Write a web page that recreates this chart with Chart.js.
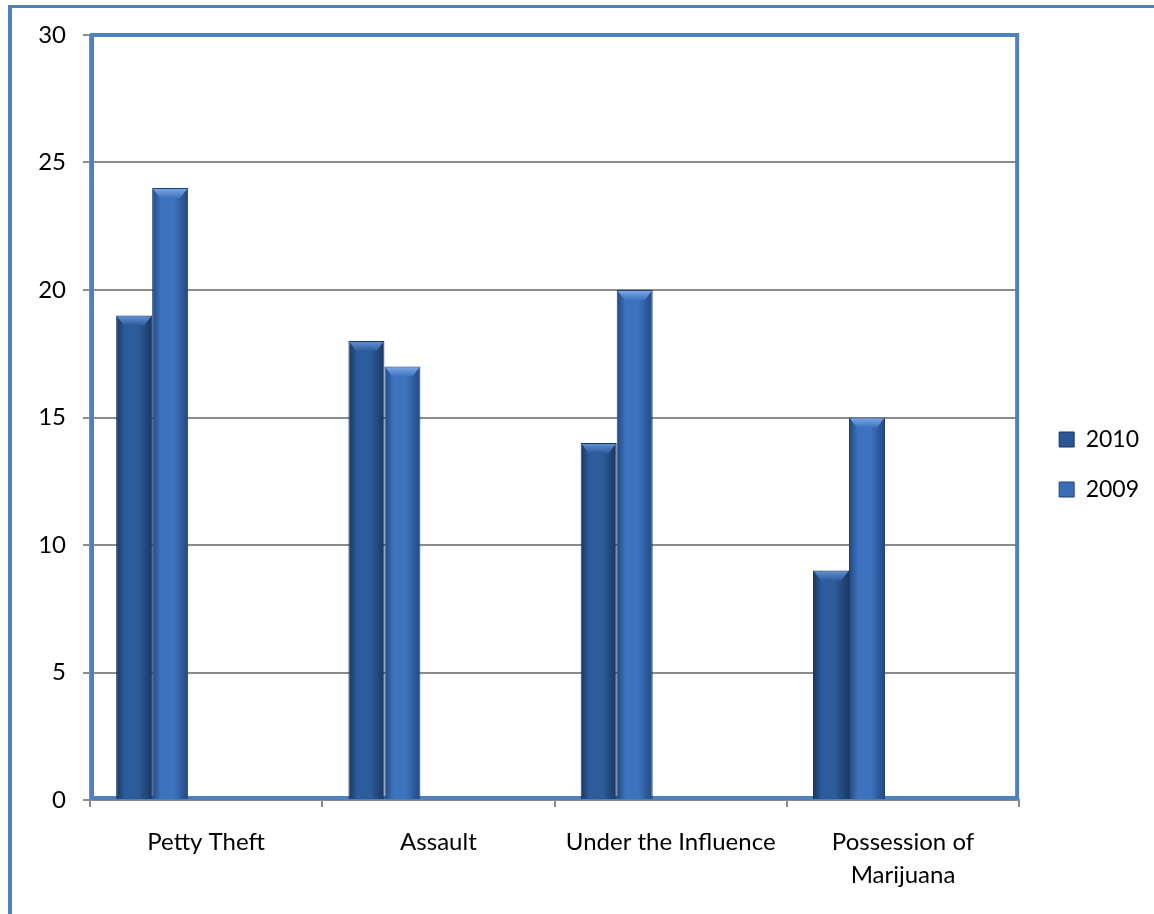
<!DOCTYPE html>
<html>
<head>
<meta charset="utf-8">
<script src="https://cdn.jsdelivr.net/npm/chart.js@4.4.1/dist/chart.umd.min.js"></script>
<style>
  html, body { margin: 0; padding: 0; background: #ffffff; }
  #frame {
    position: absolute; left: 8px; top: 5px; width: 1160px; height: 920px;
    border-left: 4px solid #4f81bd; border-top: 3px solid #4f81bd;
  }
  #wrap { position: absolute; left: 0; top: 0; width: 1154px; height: 914px; }
</style>
</head>
<body>
<div id="frame"></div>
<div id="wrap"><canvas id="chart" width="1154" height="914"></canvas></div>
<script>
// Offences by year
const categories = ['Petty Theft', 'Assault', 'Under the Influence', ['Possession of', 'Marijuana']];
const values2010 = [19, 18, 14, 9];
const values2009 = [24, 17, 20, 15];
const seriesNames = ['2010', '2009'];
const yMin = 0, yMax = 30, yStep = 5;

const FONT = 'Lato, "Open Sans", "DejaVu Sans", sans-serif';
const GRID = '#8c8c8c';
const FRAME = '#4f81bd';

// shading per series: edge, middle, top bevel light
const shades = [
  { edge: '#1a3762', mid: '#2d5c9c', light: '#5f8fd0' },
  { edge: '#22487f', mid: '#3d73be', light: '#78a6e4' }
];

// nudge the legend block into place beside the plot
const legendShiftX = 13, legendShiftY = -10;

const barStyle = {
  id: 'barStyle',
  afterLayout(chart) {
    const lg = chart.legend;
    if (lg) {
      lg.left += legendShiftX; lg.right += legendShiftX;
      lg.top += legendShiftY; lg.bottom += legendShiftY;
    }
  },
  beforeDatasetsDraw(chart) {
    const { ctx, chartArea: a } = chart;
    ctx.save();
    ctx.strokeStyle = FRAME;
    ctx.lineWidth = 4;
    ctx.strokeRect(a.left + 2, a.top, a.right - a.left - 4, a.bottom - a.top - 2);
    ctx.restore();
    for (let d = 0; d < 2; d++) {
      const meta = chart.getDatasetMeta(d);
      const s = shades[d];
      meta.data.forEach(el => {
        const x0 = el.x - el.width / 2, x1 = el.x + el.width / 2;
        const g = ctx.createLinearGradient(x0, 0, x1, 0);
        g.addColorStop(0, s.edge);
        g.addColorStop(0.25, s.mid);
        g.addColorStop(0.6, s.mid);
        g.addColorStop(1, s.edge);
        el.options = Object.assign({}, el.options, { backgroundColor: g });
      });
    }
  },
  afterDatasetsDraw(chart) {
    const { ctx } = chart;
    ctx.save();
    for (let d = 0; d < 2; d++) {
      const meta = chart.getDatasetMeta(d);
      const s = shades[d];
      meta.data.forEach(el => {
        const x0 = el.x - el.width / 2 + 1, x1 = el.x + el.width / 2 - 1;
        const y = el.y + 1, h = 9, inset = 7;
        const g = ctx.createLinearGradient(0, y, 0, y + h);
        g.addColorStop(0, s.light);
        g.addColorStop(1, s.mid);
        ctx.fillStyle = g;
        ctx.beginPath();
        ctx.moveTo(x0, y);
        ctx.lineTo(x1, y);
        ctx.lineTo(x1 - inset, y + h);
        ctx.lineTo(x0 + inset, y + h);
        ctx.closePath();
        ctx.fill();
      });
    }
    ctx.restore();
  }
};

const pad = () => ({ label: '', data: categories.map(() => null), backgroundColor: 'rgba(0,0,0,0)' });

new Chart(document.getElementById('chart'), {
  type: 'bar',
  data: {
    labels: categories,
    datasets: [
      { label: seriesNames[0], data: values2010, backgroundColor: '#2b5796', borderColor: '#1a355f', borderWidth: 1 },
      { label: seriesNames[1], data: values2009, backgroundColor: '#3a6db6', borderColor: '#1f4275', borderWidth: 1 },
      pad(), pad(), pad()
    ]
  },
  options: {
    responsive: false,
    animation: false,
    events: [],
    categoryPercentage: 0.775,
    barPercentage: 1,
    layout: { padding: { top: 35, right: 18, left: 0, bottom: 0 } },
    plugins: {
      title: { display: false },
      tooltip: { enabled: false },
      legend: {
        position: 'right',
        labels: {
          font: { family: FONT, size: 23 },
          color: '#000',
          boxWidth: 15,
          boxHeight: 15,
          padding: 27,
          filter: item => item.text !== ''
        }
      }
    },
    scales: {
      x: {
        offset: true,
        grid: { display: true, drawOnChartArea: false, drawTicks: true, tickLength: 7, color: GRID, lineWidth: 2, offset: true },
        border: { display: true, color: GRID, width: 2 },
        ticks: { font: { family: FONT, size: 24, lineHeight: 1.38 }, color: '#000', padding: 19, maxRotation: 0, autoSkip: false },
        afterFit(s) { s.height = 114; }
      },
      y: {
        min: yMin, max: yMax,
        grid: { color: GRID, lineWidth: 2, tickLength: 7, drawTicks: true },
        border: { display: true, color: GRID, width: 2 },
        ticks: { stepSize: yStep, font: { family: FONT, size: 24 }, color: '#000', padding: 17 },
        afterFit(s) { s.width = 90; }
      }
    }
  },
  plugins: [barStyle]
});
</script>
</body>
</html>
